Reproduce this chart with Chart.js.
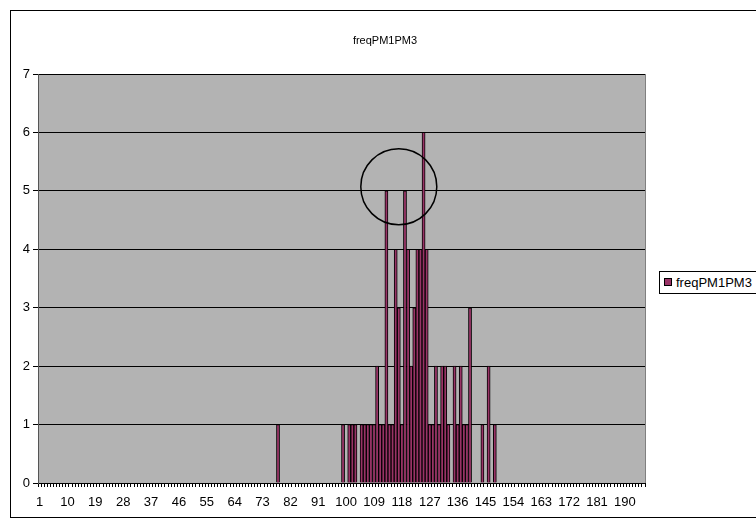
<!DOCTYPE html>
<html>
<head>
<meta charset="utf-8">
<script src="https://cdn.jsdelivr.net/npm/chart.js@4.4.1/dist/chart.umd.min.js"></script>
<style>
  html, body { margin: 0; padding: 0; background: #fff; }
  #wrap { position: relative; width: 756px; height: 520px; overflow: hidden;
          font-family: 'Liberation Sans', Arial, sans-serif; color: #000; }
  #frame { position: absolute; left: 10px; top: 10px; width: 820px; height: 506px;
           border: 1px solid #000; }
  #title { position: absolute; top: 34px; left: 0; width: 770px; text-align: center;
           font-size: 11px; }
  #legend { position: absolute; left: 659px; top: 271px; width: 130px; height: 21px;
            border: 1px solid #000; background: #fff; font-size: 13px; line-height: 21px;
            white-space: nowrap; }
  #legend .swatch { display: inline-block; width: 6px; height: 6px; margin: 0 4px 0 4px;
                    background: #993366; border: 1px solid #000; vertical-align: 1px; }
  canvas { position: absolute; left: 0; top: 0; }
</style>
</head>
<body>
<div id="wrap">
  <div id="frame"></div>
  <canvas id="freqChart" width="756" height="520"></canvas>
  <div id="title"></div>
  <div id="legend"><span class="swatch"></span><span id="legendText"></span></div>
</div>
<script>
// ── data ──
const seriesName = 'freqPM1PM3';
const categoryCount = 196;
const categories = Array.from({ length: categoryCount }, (_, i) => String(i + 1));

// categories that have a bar, and their counts
const barCategories = [78, 99, 101, 102, 103, 105, 106, 107, 108, 109,
  110, 111, 112, 113, 114, 115, 116, 117, 118, 119,
  120, 121, 122, 123, 124, 125, 126, 127, 128, 129,
  130, 131, 132, 133, 135, 136, 137, 138, 139, 140,
  144, 146, 148];
const barCounts = [1, 1, 1, 1, 1, 1, 1, 1, 1, 1,
  2, 1, 1, 5, 1, 1, 4, 3, 1, 5,
  4, 2, 3, 4, 4, 6, 4, 1, 1, 2,
  1, 2, 2, 1, 2, 1, 2, 1, 1, 3,
  1, 2, 1];

const tickLabels = ['1', '10', '19', '28', '37', '46', '55', '64', '73', '82',
  '91', '100', '109', '118', '127', '136', '145', '154', '163', '172', '181', '190'];
const yMax = 7;

// hand-drawn circle on the original
const circleCategory = '117';
const circleValue = 5.07;
const circleRadius = 38;

// ── build series ──
const counts = categories.map(c => {
  const j = barCategories.indexOf(Number(c));
  return j < 0 ? 0 : barCounts[j];
});

document.getElementById('title').textContent = seriesName;
document.getElementById('legendText').textContent = seriesName;

const font = { family: "'Liberation Sans', Arial, sans-serif", size: 13 };

// grey plot area + circle annotation
const plotDecor = {
  id: 'plotDecor',
  beforeDraw(chart) {
    const { ctx, chartArea: a } = chart;
    ctx.save();
    ctx.fillStyle = '#b3b3b3';
    ctx.fillRect(a.left, a.top, a.width, a.height);
    ctx.restore();
  },
  afterDatasetsDraw(chart) {
    const { ctx, chartArea: a, scales } = chart;
    ctx.save();
    ctx.strokeStyle = '#808080';
    ctx.lineWidth = 1;
    ctx.beginPath();
    ctx.moveTo(Math.round(a.right) + 0.5, a.top);
    ctx.lineTo(Math.round(a.right) + 0.5, a.bottom);
    ctx.stroke();

    const cx = scales.x.getPixelForValue(categories.indexOf(circleCategory));
    const cy = scales.y.getPixelForValue(circleValue);
    ctx.strokeStyle = '#000';
    ctx.lineWidth = 1.5;
    ctx.beginPath();
    ctx.arc(cx, cy, circleRadius, 0, Math.PI * 2);
    ctx.stroke();
    ctx.restore();
  },
};

new Chart(document.getElementById('freqChart'), {
  type: 'bar',
  data: {
    labels: categories,
    datasets: [{
      label: seriesName,
      data: counts,
      backgroundColor: '#993366',
      borderColor: '#000',
      borderWidth: 1,
      barPercentage: 1,
      categoryPercentage: 1,
    }],
  },
  options: {
    responsive: false,
    animation: false,
    layout: { padding: { left: 0, top: 74, right: 111, bottom: 0 } },
    plugins: {
      legend: { display: false },
      title: { display: false },
      tooltip: { enabled: false },
    },
    scales: {
      x: {
        offset: true,
        grid: { offset: true, drawOnChartArea: false, drawTicks: true, tickLength: 4, color: '#000' },
        border: { display: true, color: '#000' },
        ticks: {
          autoSkip: false,
          maxRotation: 0,
          minRotation: 0,
          padding: 8,
          color: '#000',
          font,
          callback: (v, i) => tickLabels.includes(categories[i]) ? categories[i] : '',
        },
        afterFit: s => { s.height = 37; },
      },
      y: {
        min: 0,
        max: yMax,
        ticks: { stepSize: 1, padding: 3, color: '#000', font },
        grid: { color: '#000', tickLength: 5 },
        border: { display: true, color: '#555' },
        afterFit: s => { s.width = 38; },
      },
    },
  },
  plugins: [plotDecor],
});
</script>
</body>
</html>
